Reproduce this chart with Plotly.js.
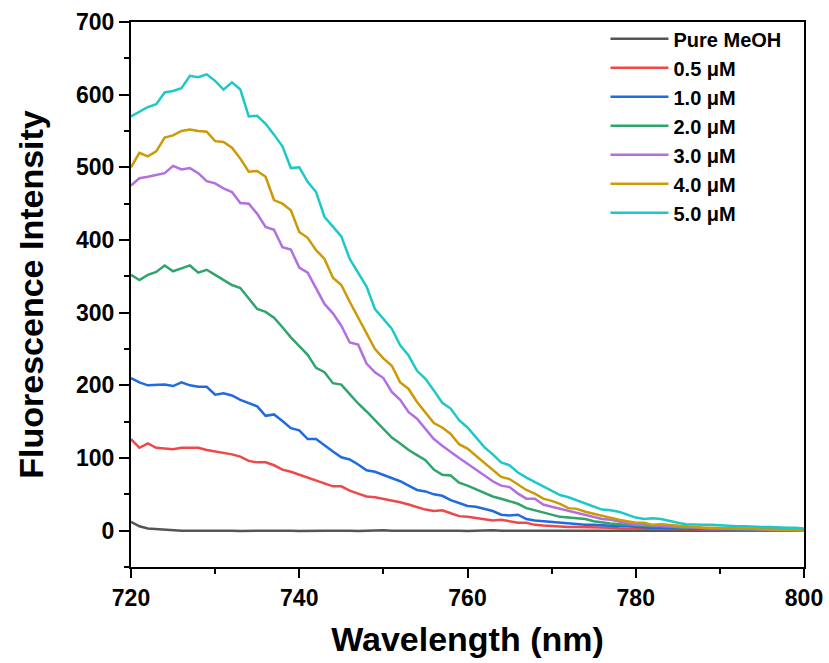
<!DOCTYPE html>
<html>
<head>
<meta charset="utf-8">
<script src="https://cdn.plot.ly/plotly-3.0.1.min.js"></script>
<style>html,body{margin:0;padding:0;background:#fff;}#chart{width:829px;height:663px;}</style>
</head>
<body>
<div id="chart"></div>
<script>
const wavelength = [720,721,722,723,724,725,726,727,728,729,730,731,732,733,734,735,736,737,738,739,740,741,742,743,744,745,746,747,748,749,750,751,752,753,754,755,756,757,758,759,760,761,762,763,764,765,766,767,768,769,770,771,772,773,774,775,776,777,778,779,780,781,782,783,784,785,786,787,788,789,790,791,792,793,794,795,796,797,798,799,800];

const seriesNames = ["Pure MeOH","0.5 μM","1.0 μM","2.0 μM","3.0 μM","4.0 μM","5.0 μM"];

const pureMeOH = [12,6,3,2,1,0.5,0,0,0.5,0,0,0.5,0,-0.5,0,0.5,0,0,0.5,0,-0.5,0,0.5,0,0,0.5,0,-0.5,0,0,0.5,0,-0.5,0,0,0.5,0,0,0.5,0,-0.5,0,0,0.5,0,0,-0.5,0,0.5,0,0,-0.5,0,0,0.5,0,0,0,-0.5,0,0.5,0,0,0,0.5,0,0,-0.5,0,0,0.5,0,0,0,0,-0.5,0,0,0,0.5,0];
const c05 = [126,114,120,114,113,112,114,114,114,111,109,108,105,102,96,94,94,90,84,81,77,73,68,64,61,61,55,51,47,46,44,42,39,36,32,29,27,28,24,20,19,17,15,14,15,13,11,11,8,7,6,6,5,5,5,4,4,4,3,3,3,3,3,2,2,2,2,2,1,1,1,1,1,1,1,1,0,0,0,0,0];
const c10 = [210,204,200,201,201,199,204,200,198,198,187,189,186,180,175,171,158,160,151,141,138,126,126,117,109,101,98,91,83,81,77,73,68,62,56,54,50,48,42,38,34,33,30,27,22,21,22,16,14,13,11,10,10,9,8,8,7,7,6,6,5,5,4,4,3,3,3,2,2,2,2,2,1,1,1,1,1,1,1,1,1];
const c20 = [352,345,352,356,365,357,361,365,355,359,352,345,338,334,319,305,301,293,280,266,254,242,224,218,203,201,188,175,164,152,139,128,120,111,104,97,84,77,76,66,62,57,52,47,44,41,37,31,28,26,23,19,18,17,16,13,11,10,9,8,7,7,6,6,5,5,4,4,3,3,3,2,2,2,2,1,1,1,1,1,1];
const c30 = [475,485,487,489,492,502,497,499,492,481,478,471,466,451,450,436,418,414,390,387,362,355,334,312,299,282,259,256,230,218,210,191,180,163,154,140,126,117,108,100,92,84,76,68,62,60,51,44,44,36,33,30,28,24,21,19,16,15,13,10,8,8,7,6,6,5,5,4,4,3,3,3,2,2,2,2,1,1,1,1,1];
const c40 = [500,520,515,522,541,544,550,552,550,549,536,535,527,512,494,495,487,455,450,441,411,403,386,374,348,338,315,294,271,250,237,227,204,195,177,163,148,142,133,119,113,103,93,84,74,71,64,56,51,44,41,37,31,30,26,23,21,18,15,13,11,11,8,9,8,7,5,5,4,4,4,3,3,3,3,2,2,2,1,1,0];
const c50 = [570,576,583,587,603,605,609,626,624,628,619,607,617,607,570,571,560,545,529,499,500,480,466,432,419,405,374,354,336,305,292,278,255,241,220,209,193,176,168,152,142,129,115,105,94,90,80,73,67,61,55,49,46,42,38,33,29,28,26,22,18,16,17,16,13,11,9,8,8,8,7,7,6,6,5,5,5,4,4,4,3];

const seriesValues = [pureMeOH, c05, c10, c20, c30, c40, c50];
const colors = ["#555555","#F04848","#1F6BE0","#2FA56B","#B26FE0","#CC9A06","#1DC8C8"];

const traces = seriesValues.map((vals, i) => ({
  x: wavelength,
  y: vals,
  type: "scatter",
  mode: "lines",
  name: seriesNames[i],
  legendgroup: "g" + i,
  line: {color: colors[i], width: 2.5}
}));

const fontFam = "Liberation Sans, Arial, sans-serif";

const layout = {
  width: 829,
  height: 663,
  paper_bgcolor: "#ffffff",
  plot_bgcolor: "#ffffff",
  margin: {l: 131, r: 25, t: 22, b: 96},
  showlegend: true,
  legend: {
    x: 0.705, xanchor: "left",
    y: 1.005, yanchor: "top",
    bgcolor: "rgba(0,0,0,0)",
    borderwidth: 0,
    font: {family: fontFam, size: 20, color: "#000", weight: "bold"},
    tracegroupgap: 0,
    traceorder: "grouped",
    itemwidth: 58
  },
  xaxis: {
    range: [720, 800],
    dtick: 20,
    tick0: 720,
    ticks: "outside",
    ticklen: 9,
    tickwidth: 2,
    tickcolor: "#000",
    minor: {dtick: 10, ticks: "outside", ticklen: 5, tickwidth: 2, tickcolor: "#000"},
    showline: true,
    linewidth: 2,
    linecolor: "#000",
    mirror: true,
    showgrid: false,
    zeroline: false,
    tickfont: {family: fontFam, size: 23, color: "#000", weight: "bold"},
    title: {text: "Wavelength (nm)", font: {family: fontFam, size: 34, color: "#000", weight: "bold"}, standoff: 18}
  },
  yaxis: {
    range: [-50, 700],
    dtick: 100,
    tick0: 0,
    ticks: "outside",
    ticklen: 10,
    tickwidth: 2,
    tickcolor: "#000",
    minor: {dtick: 50, ticks: "outside", ticklen: 5, tickwidth: 2, tickcolor: "#000"},
    showline: true,
    linewidth: 2,
    linecolor: "#000",
    mirror: true,
    showgrid: false,
    zeroline: false,
    tickfont: {family: fontFam, size: 23, color: "#000", weight: "bold"},
    title: {text: "Fluorescence Intensity", font: {family: fontFam, size: 34, color: "#000", weight: "bold"}, standoff: 22}
  }
};

Plotly.newPlot("chart", traces, layout, {displayModeBar: false, staticPlot: true});
</script>
</body>
</html>
